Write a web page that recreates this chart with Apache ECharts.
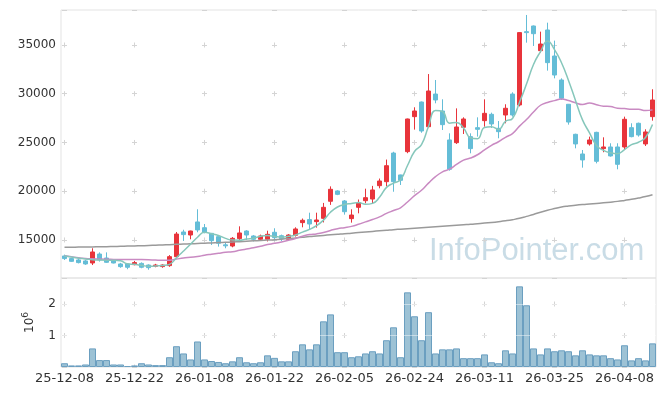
<!DOCTYPE html>
<html>
<head>
<meta charset="utf-8">
<script src="https://cdn.jsdelivr.net/npm/echarts@6/dist/echarts.min.js"></script>
<style>
html, body { margin: 0; padding: 0; background: #fff; }
#main { width: 665px; height: 396px; }
</style>
</head>
<body>
<div id="main"></div>
<script>
// 일별 시세 (날짜 / 시가 / 종가 / 저가 / 고가 / 거래량)
var dates = ['25-12-08','25-12-09','25-12-10','25-12-11','25-12-12','25-12-15','25-12-16','25-12-17','25-12-18','25-12-19',
  '25-12-22','25-12-23','25-12-24','25-12-26','25-12-29','25-12-30','26-01-02','26-01-05','26-01-06','26-01-07',
  '26-01-08','26-01-09','26-01-12','26-01-13','26-01-14','26-01-15','26-01-16','26-01-19','26-01-20','26-01-21',
  '26-01-22','26-01-23','26-01-26','26-01-27','26-01-28','26-01-29','26-01-30','26-02-02','26-02-03','26-02-04',
  '26-02-05','26-02-06','26-02-09','26-02-10','26-02-11','26-02-12','26-02-13','26-02-19','26-02-20','26-02-23',
  '26-02-24','26-02-25','26-02-26','26-02-27','26-03-03','26-03-04','26-03-05','26-03-06','26-03-09','26-03-10',
  '26-03-11','26-03-12','26-03-13','26-03-16','26-03-17','26-03-18','26-03-19','26-03-20','26-03-23','26-03-24',
  '26-03-25','26-03-26','26-03-27','26-03-30','26-03-31','26-04-01','26-04-02','26-04-03','26-04-06','26-04-07',
  '26-04-08','26-04-09','26-04-10','26-04-13','26-04-14'];

var openP = [13360,13090,12950,12850,12640,13560,13150,12880,12540,12540,
  12470,12600,12430,12300,12270,12370,13290,15820,15510,16850,
  16260,15680,15340,14500,14380,15140,15920,15410,15070,15070,
  15790,15440,15070,15480,16780,17090,16880,17220,18970,20030,
  19000,17190,18350,19030,19200,20570,20980,23920,21670,24060,
  27650,29150,26620,29970,28230,25260,24980,26560,25600,26520,
  27240,27890,26450,27820,29970,28850,36370,36950,34420,36540,
  33870,31410,28920,25840,23820,24850,26040,24370,24540,24540,
  24540,26520,26970,24850,27650];

var closeP = [13090,12810,12680,12540,13770,12950,12710,12640,12265,12200,
  12680,12200,12160,12430,12430,13290,15610,15550,15920,16030,
  15790,14930,14660,14400,15170,15720,15510,15070,15410,15580,
  15240,15140,15510,16130,17020,16640,17050,18350,20200,19680,
  17900,17560,18830,19340,20130,21050,22620,20980,21120,27410,
  28230,26180,30280,29360,26830,22250,26590,27410,24370,26350,
  27990,26900,26110,28510,27820,36270,36270,36160,35100,33190,
  31920,29530,27100,24850,23210,25260,23070,24540,23620,22760,
  27380,25600,25770,26080,29360];

var lowP = [12950,12750,12600,12450,12430,12780,12650,12600,12150,12000,
  12400,12100,11950,12200,12150,12250,13200,14900,15070,15790,
  15680,14490,14320,14150,14250,14950,15000,14850,14900,14850,
  14950,14900,14950,15350,16300,16030,16265,16800,18600,19600,
  17600,16780,17735,18760,18760,20300,20500,19950,20640,23900,
  26320,26000,26560,29020,26280,22110,24850,25870,23890,25600,
  26620,26490,25430,26970,27650,28700,35240,34900,34220,32370,
  31580,29360,26830,24400,22420,24680,22860,24000,23550,22250,
  24330,25530,25600,24640,27240];

var highP = [13500,13150,13050,12950,14150,13730,13730,12950,12650,12600,
  12850,12700,12500,12550,12500,13450,15820,16050,15950,18150,
  16640,15720,15400,14700,15300,16400,16000,15500,15550,15950,
  16200,15550,15600,16300,17200,17800,17800,18800,20500,20100,
  19100,18150,19150,20260,20550,21300,23250,24050,21700,27450,
  28610,29200,32020,31410,29430,25940,28500,27580,25940,27580,
  29430,28060,27200,28920,30150,36300,38080,37000,36370,37290,
  35450,31580,28950,25900,24230,25600,26100,25530,24920,24920,
  27650,26970,27040,26350,30460];

var volume = [120000,50000,50000,80000,590000,220000,220000,80000,80000,30000,
  50000,120000,80000,60000,60000,310000,660000,430000,240000,810000,
  240000,190000,160000,120000,180000,310000,150000,120000,150000,370000,
  290000,180000,180000,500000,720000,560000,720000,1450000,1670000,470000,
  470000,310000,340000,430000,500000,430000,850000,1260000,310000,2370000,
  1610000,850000,1740000,430000,560000,560000,590000,280000,280000,280000,
  400000,150000,120000,530000,430000,2560000,1960000,590000,400000,590000,
  500000,530000,500000,370000,530000,400000,370000,370000,280000,240000,
  690000,210000,280000,210000,750000];

// 이동평균선
var ma5 = [13380,13250,13130,13060,12978,12950,12930,12922,12867,12553,
  12499,12397,12301,12334,12380,12502,13184,13862,14560,15280,
  15780,15644,15466,15162,14990,14976,15092,15174,15376,15458,
  15362,15288,15376,15520,15808,16088,16470,17038,17852,18384,
  18636,18738,18834,18662,18752,19382,20394,20824,21180,22636,
  24072,24784,26644,28292,28176,26980,27062,26488,25490,25394,
  26542,26604,26344,27172,27466,29122,30996,33006,34324,35398,
  34528,33180,31368,29318,27322,25990,24698,24186,23940,23850,
  24274,24780,25026,25518,26838];

var ma20 = [13380,13280,13180,13110,13070,13040,13020,13010,13000,13000,
  13000,12990,12970,12940,12920,12930,13040,13150,13240,13298,
  13433,13539,13638,13731,13801,13939,14079,14201,14358,14527,
  14655,14802,14970,15155,15384,15552,15624,15764,15978,16160,
  16266,16397,16606,16853,17101,17367,17723,18018,18304,18895,
  19545,20097,20835,21497,21987,22268,22745,23198,23406,23740,
  24244,24711,25075,25534,25918,26679,27362,28121,28820,29109,
  29293,29461,29302,29076,28895,29046,28870,28726,28689,28509,
  28479,28414,28397,28275,28345];

var ma120 = [14250,14260,14270,14280,14290,14300,14310,14330,14350,14370,
  14390,14410,14430,14460,14490,14520,14550,14580,14610,14640,
  14670,14700,14730,14760,14790,14830,14870,14910,14950,14990,
  15030,15080,15140,15210,15280,15350,15410,15470,15530,15590,
  15650,15700,15760,15820,15880,15940,16000,16060,16110,16160,
  16210,16260,16310,16360,16410,16460,16510,16560,16610,16670,
  16730,16800,16880,16970,17080,17220,17420,17620,17850,18050,
  18220,18380,18480,18560,18630,18690,18750,18810,18880,18960,
  19060,19170,19300,19450,19640];

var priceMin = 11100, priceMax = 38590;
var volMax = 2825000;

var candleData = dates.map(function (d, i) {
  return [openP[i], closeP[i], lowP[i], highP[i]];
});

var labelFont = { fontFamily: 'DejaVu Sans', fontSize: 12, color: '#333' };
var crossH = { color: '#d4d4d4', width: 1, type: [5, 65], dashOffset: 69 };

var chart = echarts.init(document.getElementById('main'));
chart.setOption({
  animation: false,
  backgroundColor: '#fff',
  grid: [
    { left: 61, top: 10, width: 595, height: 268, show: true, borderColor: '#e3e3e3', borderWidth: 1 },
    { left: 61, top: 278, width: 595, height: 89, show: true, borderColor: '#e3e3e3', borderWidth: 1 }
  ],
  graphic: [{
    type: 'text', left: 429, top: 236, z: 0, silent: true,
    style: { text: 'InfoPointer.com', font: '31px "Liberation Sans"', fill: '#c9dce6' }
  }],
  xAxis: [
    {
      type: 'category', gridIndex: 0, data: dates, boundaryGap: true,
      axisLine: { show: false }, axisTick: { show: false }, axisLabel: { show: false },
      splitLine: { show: true, interval: 9, alignWithLabel: true,
        lineStyle: { color: '#d4d4d4', width: 1, type: [5, 43.74], dashOffset: 16.24 } }
    },
    {
      type: 'category', gridIndex: 1, data: dates, boundaryGap: true,
      axisLine: { show: false }, axisTick: { show: false },
      axisLabel: { interval: 9, margin: 5, fontFamily: 'DejaVu Sans', fontSize: 13, color: '#333' },
      splitLine: { show: true, interval: 9, alignWithLabel: true,
        lineStyle: { color: '#d4d4d4', width: 1, type: [5, 26.5], dashOffset: 8 } }
    }
  ],
  yAxis: [
    {
      type: 'value', gridIndex: 0, min: priceMin, max: priceMax, scale: true,
      axisLine: { show: false }, axisTick: { show: false },
      axisLabel: Object.assign({ margin: 5, formatter: function (v) { return v % 5000 === 0 ? String(v) : ''; } }, labelFont),
      splitLine: { show: true, lineStyle: crossH }
    },
    {
      type: 'value', gridIndex: 1, min: 0, max: volMax, interval: 1000000,
      axisLine: { show: false }, axisTick: { show: false },
      axisLabel: Object.assign({ margin: 5, formatter: function (v) { return (v > 0 && v % 1000000 === 0) ? String(v / 1000000) : ''; } }, labelFont),
      splitLine: { show: true, lineStyle: crossH },
      name: '10{s|6}', nameLocation: 'middle', nameRotate: 90, nameGap: 19,
      nameTextStyle: {
        fontFamily: 'DejaVu Sans', fontSize: 12, color: '#333', lineHeight: 16,
        rich: { s: { fontFamily: 'DejaVu Sans', fontSize: 9, color: '#333', verticalAlign: 'top', lineHeight: 16 } }
      }
    }
  ],
  series: [
    {
      name: 'MA120', type: 'line', xAxisIndex: 0, yAxisIndex: 0, data: ma120,
      showSymbol: false, smooth: true, lineStyle: { color: '#9a9a9a', width: 1.5 }
    },
    {
      name: 'MA20', type: 'line', xAxisIndex: 0, yAxisIndex: 0, data: ma20,
      showSymbol: false, smooth: true, lineStyle: { color: '#c98ac2', width: 1.5 }
    },
    {
      name: 'MA5', type: 'line', xAxisIndex: 0, yAxisIndex: 0, data: ma5,
      showSymbol: false, smooth: true, lineStyle: { color: '#86c7bb', width: 1.5 }
    },
    {
      name: '시세', type: 'candlestick', xAxisIndex: 0, yAxisIndex: 0, data: candleData,
      barWidth: 5,
      itemStyle: { color: '#e8343b', color0: '#64bdd7', borderColor: '#e8343b', borderColor0: '#64bdd7', borderWidth: 1 }
    },
    {
      name: '거래량', type: 'bar', xAxisIndex: 1, yAxisIndex: 1, data: volume,
      barCategoryGap: '0%',
      itemStyle: { color: '#9dc2d5', borderColor: '#6b9fc0', borderWidth: 1 },
      markLine: {
        silent: true, symbol: 'none', label: { show: false },
        lineStyle: { color: 'rgba(255,255,255,0.45)', type: 'solid', width: 1 },
        data: [{ yAxis: 1000000 }, { yAxis: 2000000 }]
      }
    }
  ]
});
</script>
</body>
</html>
